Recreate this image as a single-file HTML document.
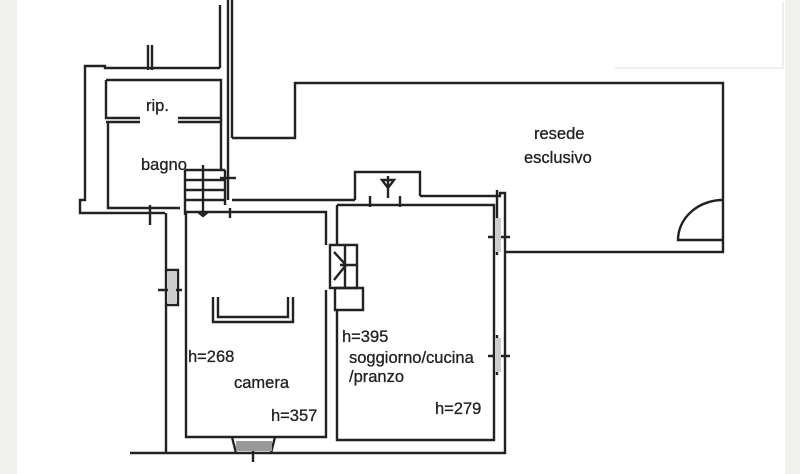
<!DOCTYPE html>
<html><head><meta charset="utf-8"><style>
html,body{margin:0;padding:0;background:#fff}
svg{display:block}
text{font-family:"Liberation Sans",Arial,sans-serif;font-size:16.5px;fill:#222;stroke:#222;stroke-width:0.3}
</style></head><body>
<svg width="800" height="474" viewBox="0 0 800 474" xmlns="http://www.w3.org/2000/svg">
<rect x="0" y="0" width="800" height="474" fill="#fff"/>
<rect x="0" y="0" width="17" height="474" fill="#f1f1f0"/>
<rect x="785" y="0" width="15" height="474" fill="#f1f1f0"/>
<path d="M615 68 H783 V2" stroke="#ddd" stroke-width="1" fill="none"/>
<g stroke="#222" stroke-width="2.4" fill="none" stroke-linejoin="miter">
<path d="M228 0 V200"/><path d="M232 0 V138"/>
<path d="M220 5 V68"/>
<path d="M220 68 H105 V66 H85 V200 H80 V213 H165"/>
<path d="M148 45 V70 M152 45 V70"/>
<path d="M106 80 H221 V118 H178 M140 118 H106 V80"/>
<path d="M106 122 H140 M178 122 H221"/>
<path d="M108 122 V208 H180"/>
<path d="M221 118 V170"/>
<path d="M185 170 H225 M185 180 H225 M185 190 H225 M185 200 H225 M185 170 V215 M203 165 V215 M225 170 V205"/>
<path d="M198 212 L203 216 L208 212"/>
<path d="M220 178 H236"/>
<path d="M232 138 H295 V83 H723 V252 H505"/>
<path d="M723 240 H678 A45 40 0 0 1 723 200"/>
<path d="M232 200 H355 M420 196 H500 V193 H505 V453 H130"/>
<path d="M166 213 V453"/>
<path d="M355 200 V172 H420 V196"/>
<path d="M370 196 V207 M400 196 V207"/>
<path d="M382 180 L394 180 L388 188 Z M388 176 V198"/>
<path d="M186 212 H326 V245 M326 290 V437 H186 V212"/>
<path d="M337 205 H494 V440 H337 V310"/>
<path d="M337 205 V245"/>
<path d="M330 245 H357 V288 H330 Z M345 245 V288"/>
<path d="M334 252 L346 265 L334 280 M340 265 H356"/>
<path d="M335 288 H363 V310 H335 Z"/>
<path d="M213 297 V322 H293 V297 M218 297 V317 H288 V297"/>
<path d="M166 270 H178 V305 H166 M172 275 V300 M158 290 H182"/>
<path d="M150 205 V225 M230 218 V208"/>
<path d="M497 215 V255 M497 335 V375 M488 237 H510 M488 356 H510"/>
<path d="M497 190 V215"/>
<path d="M232 437 L236 453 M275 437 L271 453 M253 446 V462"/>
</g>
<rect x="236" y="441" width="36" height="10" fill="#999"/>
<rect x="168" y="272" width="8" height="32" fill="#ccc"/>
<rect x="495" y="218" width="6" height="34" fill="#ccc"/>
<rect x="495" y="338" width="6" height="34" fill="#ccc"/>
<text x="146" y="111">rip.</text>
<text x="141" y="170">bagno</text>
<text x="534" y="139">resede</text>
<text x="524" y="163">esclusivo</text>
<text x="188" y="362">h=268</text>
<text x="234" y="388">camera</text>
<text x="271" y="421">h=357</text>
<text x="342" y="342">h=395</text>
<text x="349" y="363">soggiorno/cucina</text>
<text x="349" y="382">/pranzo</text>
<text x="435" y="414">h=279</text>
</svg>
</body></html>
